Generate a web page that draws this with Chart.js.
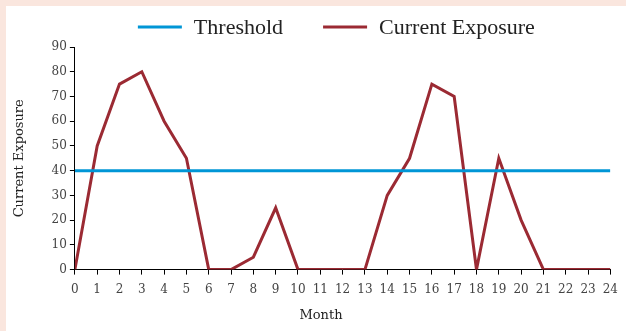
<!DOCTYPE html>
<html>
<head>
<meta charset="utf-8">
<script src="https://cdn.jsdelivr.net/npm/chart.js@4/dist/chart.umd.min.js"></script>
<style>
  html, body { margin: 0; padding: 0; background: #fae6de; }
  #wrap { position: absolute; left: 6px; top: 6px; width: 620px; height: 325px; background: #ffffff; }
  canvas { display: block; }
</style>
</head>
<body>
<div id="wrap"><canvas id="c" width="620" height="325"></canvas></div>
<script>
const months = [0,1,2,3,4,5,6,7,8,9,10,11,12,13,14,15,16,17,18,19,20,21,22,23,24];
const currentExposure = [0,50,75,80,60,45,0,0,5,25,0,0,0,0,30,45,75,70,0,45,20,0,0,0,0];
const thresholdLevel = 40;
const yTicks = [0,10,20,30,40,50,60,70,80,90];
const xTitle = 'Month';
const yTitle = 'Current Exposure';

const serif = "'DejaVu Serif', 'Liberation Serif', serif";
const legendFont = "22px 'Liberation Serif', 'DejaVu Serif', serif";
const tickColor = '#444444';
const textColor = '#222222';

// Legend drawn as line samples followed by labels, in one row above the plot
const lineLegend = {
  id: 'lineLegend',
  afterDraw(chart) {
    const ctx = chart.ctx;
    const area = chart.chartArea;
    const sample = 44, gap = 12, between = 40;
    ctx.save();
    ctx.font = legendFont;
    ctx.textBaseline = 'middle';
    ctx.textAlign = 'left';
    let x = area.left + 63;
    const y = area.top - 20;
    chart.data.datasets.forEach(ds => {
      ctx.strokeStyle = ds.borderColor;
      ctx.lineWidth = 3;
      ctx.beginPath();
      ctx.moveTo(x, y);
      ctx.lineTo(x + sample, y);
      ctx.stroke();
      x += sample + gap;
      ctx.fillStyle = textColor;
      ctx.fillText(ds.label, x, y + 1);
      x += ctx.measureText(ds.label).width + between;
    });
    ctx.restore();
  }
};

// x-axis title, centred under the canvas
const monthTitle = {
  id: 'monthTitle',
  afterDraw(chart) {
    const ctx = chart.ctx;
    ctx.save();
    ctx.font = "13px " + serif;
    ctx.fillStyle = textColor;
    ctx.textAlign = 'center';
    ctx.textBaseline = 'middle';
    ctx.fillText(xTitle, chart.width / 2 + 5, chart.height - 15);
    ctx.restore();
  }
};

new Chart(document.getElementById('c'), {
  type: 'line',
  data: {
    datasets: [
      {
        label: 'Threshold',
        data: [{x: months[0], y: thresholdLevel}, {x: months[months.length - 1], y: thresholdLevel}],
        borderColor: '#0096d6',
        backgroundColor: '#0096d6',
        borderWidth: 3,
        pointRadius: 0,
        tension: 0
      },
      {
        label: 'Current Exposure',
        data: months.map((m, i) => ({x: m, y: currentExposure[i]})),
        borderColor: '#9b2a33',
        backgroundColor: '#9b2a33',
        borderWidth: 3,
        pointRadius: 0,
        tension: 0
      }
    ]
  },
  options: {
    responsive: false,
    animation: false,
    layout: { padding: { left: 2, right: 14, top: 41, bottom: 26 } },
    plugins: {
      tooltip: { enabled: false },
      legend: { display: false }
    },
    scales: {
      x: {
        type: 'linear',
        min: 0,
        max: 24,
        border: { color: '#000000', width: 1 },
        grid: { display: true, drawOnChartArea: false, drawTicks: true, tickLength: 5, color: '#000000' },
        ticks: { stepSize: 1, autoSkip: false, maxRotation: 0, color: tickColor, font: { family: serif, size: 12 }, padding: 8 }
      },
      y: {
        min: 0,
        max: 90,
        border: { color: '#000000', width: 1 },
        grid: { display: true, drawOnChartArea: false, drawTicks: true, tickLength: 5, color: '#000000' },
        afterBuildTicks(axis) { axis.ticks = yTicks.map(v => ({value: v})); },
        ticks: { color: tickColor, font: { family: serif, size: 12 }, padding: 3 },
        title: { display: true, text: yTitle, color: textColor, font: { family: serif, size: 13 }, padding: { bottom: 21 } }
      }
    }
  },
  plugins: [lineLegend, monthTitle]
});
</script>
</body>
</html>
